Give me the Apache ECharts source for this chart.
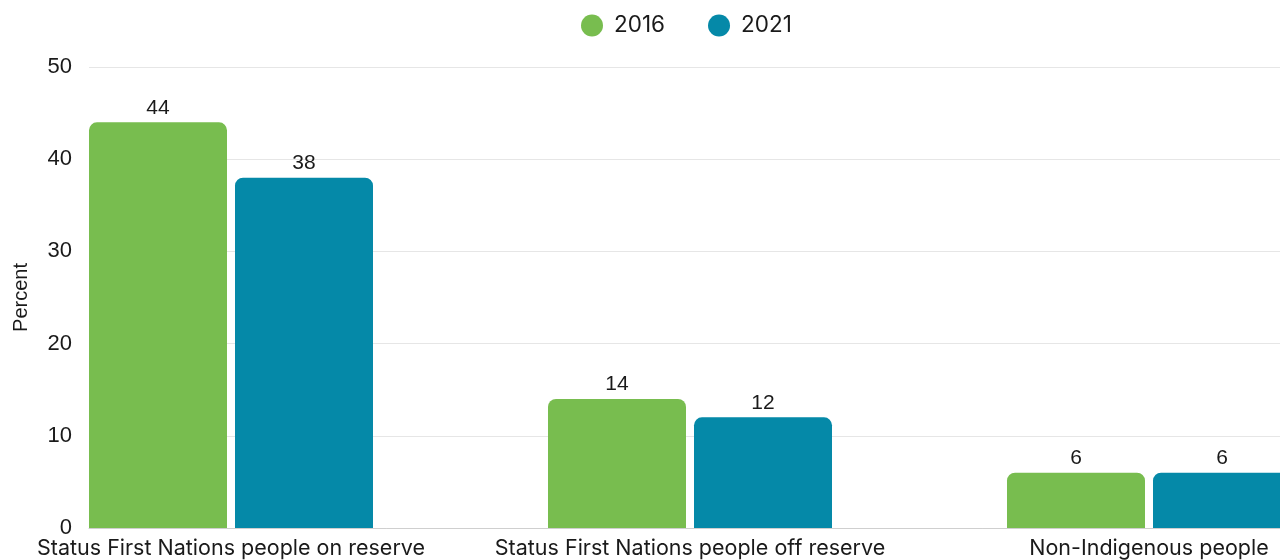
<!DOCTYPE html>
<html>
<head>
<meta charset="utf-8">
<style>
  html, body { margin: 0; padding: 0; background: #ffffff; }
  #chart { width: 1280px; height: 560px; }
</style>
<script src="https://cdn.jsdelivr.net/npm/echarts@6/dist/echarts.min.js"></script>
</head>
<body>
<div id="chart"></div>
<script>
// Groups shown along the horizontal axis
const categories = [
  'Status First Nations people on reserve',
  'Status First Nations people off reserve',
  'Non-Indigenous people'
];
// Share of each group, in percent
const values2016 = [44, 14, 6];
const values2021 = [38, 12, 6];
const seriesNames = ['2016', '2021'];
const yTicks = { min: 0, max: 50, interval: 10 };

const GREEN = '#78bd4f';
const TEAL = '#0589a8';
const numFont = '"Liberation Sans", Arial, sans-serif';
const textFont = 'Inter, "Noto Sans", sans-serif';

const chart = echarts.init(document.getElementById('chart'), null, { renderer: 'canvas' });

const barLabel = {
  show: true,
  position: 'top',
  distance: 4,
  fontFamily: numFont,
  fontSize: 21,
  color: '#1a1a1a'
};

chart.setOption({
  animation: false,
  backgroundColor: '#ffffff',
  legend: {
    top: 14,
    left: 581,
    padding: 0,
    icon: 'circle',
    itemWidth: 22,
    itemHeight: 22,
    itemGap: 43,
    textStyle: { fontFamily: textFont, fontSize: 22.5, color: '#1a1a1a', padding: [0, 0, 0, 6] },
    data: seriesNames
  },
  grid: [
    // plotting frame: gridlines, y labels and baseline (runs past the right edge)
    { left: 89, width: 1300, top: 67, bottom: 32, containLabel: false, outerBoundsMode: 'none' },
    // bar grid, wide bands so each group sits under its label
    { left: 1.5, width: 1377, top: 67, bottom: 32, containLabel: false, outerBoundsMode: 'none' }
  ],
  xAxis: [
    {
      gridIndex: 0, type: 'value', min: 0, max: 1,
      axisLine: { show: true, lineStyle: { color: '#cfcfcf', width: 1 } },
      axisTick: { show: false }, axisLabel: { show: false }, splitLine: { show: false }
    },
    {
      gridIndex: 1, type: 'category', data: categories,
      axisLine: { show: false }, axisTick: { show: false },
      axisLabel: { fontFamily: textFont, fontSize: 21.5, color: '#1a1a1a', margin: 10, interval: 0 }
    }
  ],
  yAxis: [
    {
      gridIndex: 0, type: 'value',
      min: yTicks.min, max: yTicks.max, interval: yTicks.interval,
      name: 'Percent', nameLocation: 'middle', nameRotate: 90, nameGap: 58,
      nameTextStyle: { fontFamily: numFont, fontSize: 20, color: '#1a1a1a' },
      axisLine: { show: false }, axisTick: { show: false },
      axisLabel: { fontFamily: numFont, fontSize: 22, color: '#1a1a1a', margin: 17 },
      splitLine: { show: true, lineStyle: { color: '#e6e6e6', width: 1 } }
    },
    {
      gridIndex: 1, type: 'value',
      min: yTicks.min, max: yTicks.max, interval: yTicks.interval,
      show: false, splitLine: { show: false }
    }
  ],
  series: [
    {
      name: seriesNames[0], type: 'bar', xAxisIndex: 1, yAxisIndex: 1,
      data: values2016, barWidth: 138, barGap: '5.8%',
      itemStyle: { color: GREEN, borderRadius: [8, 8, 0, 0] },
      label: barLabel
    },
    {
      name: seriesNames[1], type: 'bar', xAxisIndex: 1, yAxisIndex: 1,
      data: values2021, barWidth: 138, barGap: '5.8%',
      itemStyle: { color: TEAL, borderRadius: [8, 8, 0, 0] },
      label: barLabel
    }
  ]
});
</script>
</body>
</html>
